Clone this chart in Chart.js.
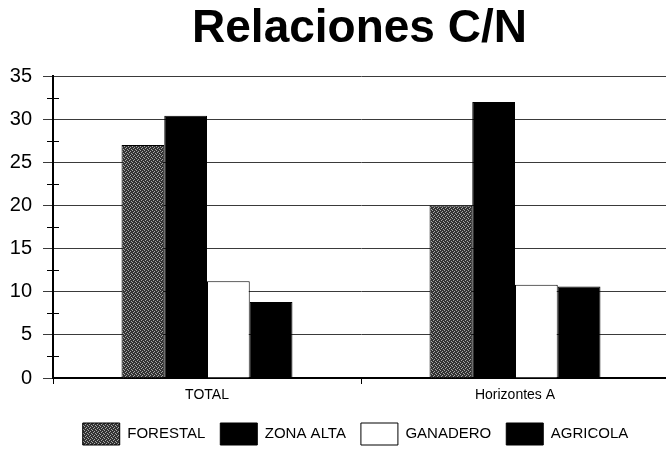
<!DOCTYPE html>
<html>
<head>
<meta charset="utf-8">
<title>Relaciones C/N</title>
<script src="https://cdn.jsdelivr.net/npm/chart.js@4/dist/chart.umd.min.js"></script>
<style>
  html, body { margin: 0; padding: 0; background: #fff; overflow: hidden; }
  #wrap { width: 669px; height: 455px; }
</style>
</head>
<body>
<div id="wrap"><canvas id="chart" width="669" height="455"></canvas></div>
<script>
// ---- data ----
const categories = ['TOTAL', 'Horizontes A'];
const seriesNames = ['FORESTAL', 'ZONA ALTA', 'GANADERO', 'AGRICOLA'];
const forestal = [27.0, 20.0];
const zonaAlta = [30.4, 32.0];
const ganadero = [11.2, 10.8];
const agricola = [8.8, 10.6];
const yTicks = [0, 5, 10, 15, 20, 25, 30, 35];

// ---- layout tweaks ----
const TITLE_SHIFT = 25;
const LEGEND_SHIFT = 21;

// stippled gray fill like the old printout
function makeStipple() {
  const c = document.createElement('canvas');
  c.width = 4;
  c.height = 4;
  const g = c.getContext('2d');
  const map = [
    '0100',
    '0001',
    '1000',
    '0010'
  ];
  for (let y = 0; y < 4; y++) {
    for (let x = 0; x < 4; x++) {
      g.fillStyle = map[y][x] === '1' ? '#a8a8a8' : '#333333';
      g.fillRect(x, y, 1, 1);
    }
  }
  return g.createPattern(c, 'repeat');
}

// small crossing ticks halfway between the y gridlines
const minorTicks = {
  id: 'minorTicks',
  afterDraw(chart) {
    const y = chart.scales.y;
    const ctx = chart.ctx;
    ctx.save();
    ctx.strokeStyle = '#000';
    ctx.lineWidth = 1;
    for (let v = 2.5; v < 35; v += 5) {
      const py = Math.round(y.getPixelForValue(v)) + 0.5;
      ctx.beginPath();
      ctx.moveTo(y.right - 6, py);
      ctx.lineTo(y.right + 6, py);
      ctx.stroke();
    }
    ctx.restore();
  }
};

// title and legend sit a little right of the canvas centre in the original
const shiftBlocks = {
  id: 'shiftBlocks',
  afterLayout(chart) {
    if (chart.titleBlock) {
      chart.titleBlock.left += TITLE_SHIFT;
      chart.titleBlock.right += TITLE_SHIFT;
    }
    if (chart.legend) {
      chart.legend.left += LEGEND_SHIFT;
      chart.legend.right += LEGEND_SHIFT;
    }
  }
};

const FONT = "'Liberation Sans', Arial, sans-serif";
const stipple = makeStipple();

const ctx = document.getElementById('chart').getContext('2d');
new Chart(ctx, {
  type: 'bar',
  data: {
    labels: categories,
    datasets: [
      { label: seriesNames[0], data: forestal, backgroundColor: stipple },
      { label: seriesNames[1], data: zonaAlta, backgroundColor: '#000000' },
      { label: seriesNames[2], data: ganadero, backgroundColor: '#ffffff' },
      { label: seriesNames[3], data: agricola, backgroundColor: '#000000' }
    ].map(ds => Object.assign(ds, {
      borderColor: '#000',
      borderWidth: 1,
      categoryPercentage: 0.555,
      barPercentage: 1
    }))
  },
  options: {
    responsive: false,
    animation: false,
    devicePixelRatio: 1,
    layout: { padding: 0 },
    plugins: {
      title: {
        display: true,
        text: 'Relaciones C/N',
        color: '#000',
        font: { family: FONT, size: 46, weight: 'bold', lineHeight: 1.2 },
        padding: { top: 2, bottom: 18.8 }
      },
      legend: {
        position: 'bottom',
        labels: {
          color: '#000',
          font: { family: FONT, size: 15 },
          boxWidth: 37,
          boxHeight: 22,
          padding: 15
        }
      },
      tooltip: { enabled: false }
    },
    scales: {
      x: {
        offset: true,
        grid: {
          offset: true,
          drawOnChartArea: false,
          drawTicks: true,
          tickLength: 6,
          color: '#000'
        },
        border: { color: '#000', width: 2 },
        ticks: {
          color: '#000',
          font: { family: FONT, size: 14 },
          padding: 3,
          maxRotation: 0
        },
        afterFit(scale) { scale.height = 30; }
      },
      y: {
        min: 0,
        max: 35,
        afterBuildTicks(scale) {
          scale.ticks = yTicks.map(v => ({ value: v }));
        },
        grid: {
          color: '#3a3a3a',
          lineWidth: 1,
          drawTicks: true,
          tickLength: 10
        },
        border: { color: '#000', width: 2 },
        ticks: {
          color: '#000',
          font: { family: FONT, size: 20 },
          padding: 11
        },
        afterFit(scale) { scale.width = 53; }
      }
    }
  },
  plugins: [minorTicks, shiftBlocks]
});
</script>
</body>
</html>
